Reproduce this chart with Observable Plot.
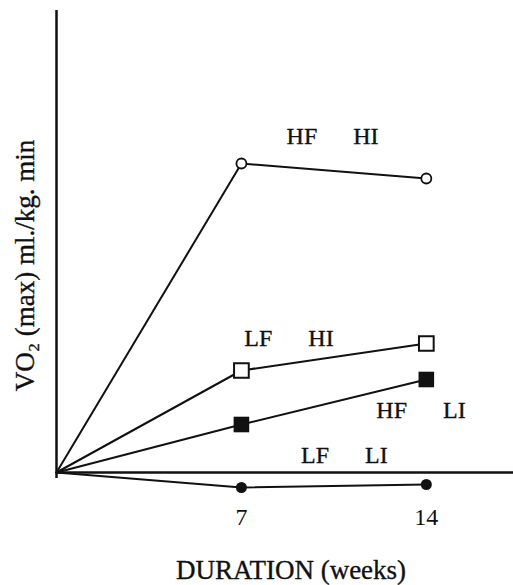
<!DOCTYPE html>
<html>
<head>
<meta charset="utf-8">
<script src="https://cdn.jsdelivr.net/npm/d3@7"></script>
<script src="https://cdn.jsdelivr.net/npm/@observablehq/plot@0.6"></script>
<style>
  html, body { margin: 0; padding: 0; background: #fff; }
</style>
</head>
<body>
<div id="chart"></div>
<script>
// Data (arbitrary VO2 units, 0 = baseline)
const weeks = [0, 7, 14];
const series = ["HF HI", "LF HI", "HF LI", "LF LI"];
const hfhi = [0, 10.3, 9.8];
const lfhi = [0, 3.4, 4.3];
const hfli = [0, 1.6, 3.1];
const lfli = [0, -0.5, -0.4];
const xTicks = [7, 14];
const xLabel = "DURATION (weeks)";
const yLabel = "VO\u2082 (max) ml./kg. min";
// label anchor positions (data coords)
const labelWeek = [10.45, 8.8, 13.8, 10.9];
const labelValue = [11.2, 4.47, 2.07, 0.57];

const values = [hfhi, lfhi, hfli, lfli];
const rows = [];
series.forEach((s, i) => weeks.forEach((w, j) => rows.push({series: s, week: w, value: values[i][j]})));
const labels = series.map((s, i) => ({text: s.replace(" ", "\u2003\u2002"), week: labelWeek[i], value: labelValue[i]}));
const pts = s => rows.filter(d => d.series === s && d.week > 0);

const ink = "#111";
const textStyle = {fill: ink, stroke: ink, strokeWidth: 0.35};

const chart = Plot.plot({
  width: 513,
  height: 585,
  marginLeft: 56,
  marginRight: 0,
  marginTop: 10,
  marginBottom: 83,
  x: {domain: [0, 17.3]},
  y: {domain: [-1, 15.4], axis: null},
  style: {fontFamily: "'Liberation Serif', 'DejaVu Serif', serif", background: "#fff", color: ink},
  marks: [
    Plot.ruleX([0], {y1: -0.2, y2: 15.4, stroke: ink, strokeWidth: 2.5}),
    Plot.ruleY([0], {x1: 0, x2: 17.3, stroke: ink, strokeWidth: 2.5}),
    Plot.line(rows, {x: "week", y: "value", z: "series", stroke: ink, strokeWidth: 2}),
    Plot.dot(pts("HF HI"), {x: "week", y: "value", symbol: "circle", r: 5, fill: "#fff", stroke: ink, strokeWidth: 1.8}),
    Plot.dot(pts("LF HI"), {x: "week", y: "value", symbol: "square", r: 8.3, fill: "#fff", stroke: ink, strokeWidth: 2}),
    Plot.dot(pts("HF LI"), {x: "week", y: "value", symbol: "square", r: 8.8, fill: ink, stroke: "none"}),
    Plot.dot(pts("LF LI"), {x: "week", y: "value", symbol: "circle", r: 5.5, fill: ink, stroke: "none"}),
    Plot.text(labels, {x: "week", y: "value", text: "text", fontSize: 24, ...textStyle}),
    Plot.axisX({ticks: xTicks, tickSize: 0, tickPadding: 5, fontSize: 24, label: null, tickFormat: d => String(d), ...textStyle}),
    Plot.text([xLabel], {text: d => d, frameAnchor: "bottom", textAnchor: "middle", lineAnchor: "middle", dx: 6, dy: 68, fontSize: 27, ...textStyle}),
    Plot.text([yLabel], {text: d => d, frameAnchor: "left", textAnchor: "middle", lineAnchor: "middle", rotate: -90, dx: -31, dy: 9, fontSize: 27, ...textStyle})
  ]
});
document.getElementById("chart").appendChild(chart);
</script>
</body>
</html>
